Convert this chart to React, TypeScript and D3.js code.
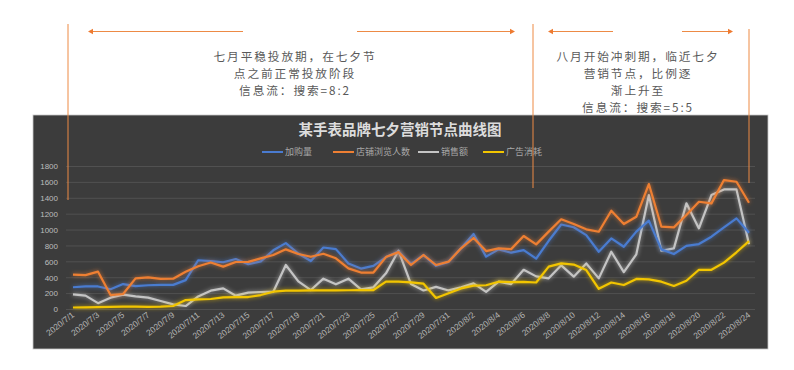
import React, { useEffect, useRef } from 'react';
import * as d3 from 'd3';

const dates = [
  '2020/7/1', '2020/7/2', '2020/7/3', '2020/7/4', '2020/7/5', '2020/7/6', '2020/7/7', '2020/7/8',
  '2020/7/9', '2020/7/10', '2020/7/11', '2020/7/12', '2020/7/13', '2020/7/14', '2020/7/15', '2020/7/16',
  '2020/7/17', '2020/7/18', '2020/7/19', '2020/7/20', '2020/7/21', '2020/7/22', '2020/7/23', '2020/7/24',
  '2020/7/25', '2020/7/26', '2020/7/27', '2020/7/28', '2020/7/29', '2020/7/30', '2020/7/31',
  '2020/8/1', '2020/8/2', '2020/8/3', '2020/8/4', '2020/8/5', '2020/8/6', '2020/8/7', '2020/8/8',
  '2020/8/9', '2020/8/10', '2020/8/11', '2020/8/12', '2020/8/13', '2020/8/14', '2020/8/15', '2020/8/16',
  '2020/8/17', '2020/8/18', '2020/8/19', '2020/8/20', '2020/8/21', '2020/8/22', '2020/8/23', '2020/8/24',
];

// 加购量
const addCart = [
  280, 290, 290, 255, 320, 295, 305, 310, 310, 370, 620, 610, 595, 635, 570, 605, 745, 835, 705, 610,
  780, 760, 580, 515, 550, 660, 730, 575, 685, 550, 600, 770, 950, 665, 757, 715, 748, 640, 865, 1070,
  1035, 937, 727, 895, 790, 980, 1118, 757, 698, 800, 824, 916, 1034, 1147, 966,
];
// 店铺浏览人数
const visitors = [
  440, 432, 476, 182, 195, 392, 405, 386, 388, 476, 545, 592, 540, 598, 600, 644, 686, 757, 698, 664,
  702, 644, 518, 465, 465, 660, 722, 560, 686, 560, 602, 770, 900, 735, 770, 760, 925, 820, 980, 1135,
  1076, 1009, 979, 1243, 1076, 1167, 1579, 1042, 1034, 1189, 1356, 1336, 1629, 1608, 1344,
];
// 销售额
const sales = [
  191, 174, 80, 149, 187, 166, 149, 107, 65, 44, 165, 237, 266, 174, 212, 220, 224, 560, 355, 245,
  388, 317, 388, 254, 279, 455, 740, 320, 240, 285, 240, 279, 329, 222, 350, 320, 500, 417, 392, 556,
  413, 580, 392, 727, 470, 695, 1440, 740, 769, 1336, 1021, 1440, 1512, 1512, 820,
];
// 广告消耗
const adCost = [
  25, 28, 30, 32, 35, 35, 33, 35, 44, 119, 128, 132, 153, 157, 157, 182, 224, 237, 237, 240,
  240, 240, 242, 245, 245, 350, 350, 342, 325, 145, 205, 265, 300, 305, 350, 345, 348, 340, 540, 580,
  565, 497, 260, 340, 308, 385, 380, 350, 296, 362, 500, 500, 590, 720, 860,
];

const seriesNames = ['加购量', '店铺浏览人数', '销售额', '广告消耗'];
const yTicks = [0, 200, 400, 600, 800, 1000, 1200, 1400, 1600, 1800];
const noteLeft = ['七月平稳投放期，在七夕节', '点之前正常投放阶段', '信息流：搜索=8:2'];
const noteRight = ['八月开始冲刺期，临近七夕', '营销节点，比例逐', '渐上升至', '信息流：搜索=5:5'];

const colors = ['#4a7bd0', '#ee7f33', '#c4c4c4', '#f2c500'];
const cjk = '"Noto Sans CJK SC", "Microsoft YaHei", sans-serif';
const orange = '#ed8a45';

export default function App() {
  const ref = useRef<SVGSVGElement>(null);

  useEffect(() => {
    const width = 794;
    const height = 370;
    const svg = d3.select(ref.current);
    svg.selectAll('*').remove();
    svg.attr('width', width).attr('height', height);

    const defs = svg.append('defs');
    const glow = defs.append('filter').attr('id', 'glow')
      .attr('x', '-10%').attr('y', '-20%').attr('width', '120%').attr('height', '140%');
    glow.append('feGaussianBlur').attr('in', 'SourceGraphic').attr('stdDeviation', 2.2).attr('result', 'b');
    glow.append('feComponentTransfer').attr('in', 'b').attr('result', 'b2')
      .append('feFuncA').attr('type', 'linear').attr('slope', 0.75);
    const merge = glow.append('feMerge');
    merge.append('feMergeNode').attr('in', 'b2');
    merge.append('feMergeNode').attr('in', 'SourceGraphic');

    // chart area
    svg.append('rect').attr('x', 33).attr('y', 115).attr('width', 735).attr('height', 234)
      .attr('fill', '#3c3c3c').attr('stroke', '#c8c8c8').attr('stroke-width', 0.8);

    // annotation texts, one text element per line
    const note = (lines: string[], cx: number) => {
      svg.append('g').selectAll('text').data(lines).join('text')
        .attr('x', cx).attr('y', (d, i) => 61 + i * 17)
        .attr('text-anchor', 'middle').attr('font-family', cjk)
        .attr('font-size', 11.7).attr('letter-spacing', 1.9).attr('fill', '#595959')
        .text(d => d);
    };
    note(noteLeft, 295);
    note(noteRight, 638);

    const x = d3.scalePoint<string>().domain(dates).range([73, 749]);
    const y = d3.scaleLinear().domain([0, 1800]).range([309.5, 166.5]);

    svg.append('g').selectAll('line').data(yTicks).join('line')
      .attr('x1', 66).attr('x2', 755)
      .attr('y1', d => y(d)).attr('y2', d => y(d))
      .attr('stroke', '#575757').attr('stroke-width', 0.8);

    svg.append('g').selectAll('text').data(yTicks).join('text')
      .attr('x', 58).attr('y', d => y(d)).attr('dy', '0.35em')
      .attr('text-anchor', 'end').attr('font-family', 'Liberation Sans, Arial, sans-serif')
      .attr('font-size', 8).attr('fill', '#bdbdbd').text(d => d);

    svg.append('g').selectAll('text').data(dates.filter((_, i) => i % 2 === 0)).join('text')
      .attr('transform', d => `translate(${x(d)! + 2},${316}) rotate(-38)`)
      .attr('text-anchor', 'end').attr('font-family', 'Liberation Sans, Arial, sans-serif')
      .attr('font-size', 8.5).attr('fill', '#b5b5b5').text(d => d);

    svg.append('text').attr('x', 400).attr('y', 135).attr('text-anchor', 'middle')
      .attr('font-family', cjk).attr('font-weight', 'bold').attr('font-size', 14.5)
      .attr('fill', '#dcdcdc').text('某手表品牌七夕营销节点曲线图');

    // legend
    const legendX = [262, 333, 418, 483];
    const lg = svg.append('g').selectAll('g').data(seriesNames).join('g')
      .attr('transform', (d, i) => `translate(${legendX[i]},152)`);
    lg.append('line').attr('x1', 0).attr('x2', 21).attr('stroke', (d, i) => colors[i]).attr('stroke-width', 2);
    lg.append('text').attr('x', 23).attr('dy', '0.35em').attr('font-family', cjk)
      .attr('font-size', 9).attr('fill', '#a8a8a8').text(d => d);

    // series
    const line = d3.line<number>().x((d, i) => x(dates[i])!).y(d => y(d));
    const all = [addCart, visitors, sales, adCost];
    const order = [2, 0, 1, 3];
    order.forEach(k => {
      svg.append('path').datum(all[k]).attr('d', line)
        .attr('fill', 'none').attr('stroke', colors[k]).attr('stroke-width', 2.2)
        .attr('stroke-linejoin', 'round').attr('filter', 'url(#glow)');
    });

    // annotation lines
    const vlines = [[68, 24, 200], [533, 24, 188], [749, 29, 183]];
    svg.append('g').selectAll('line').data(vlines).join('line')
      .attr('x1', d => d[0]).attr('x2', d => d[0]).attr('y1', d => d[1]).attr('y2', d => d[2])
      .attr('stroke', orange).attr('stroke-width', 1);

    const arrows = [[243, 88], [357, 515], [613, 548], [682, 733]];
    arrows.forEach(([a, b]) => {
      const dir = b > a ? 1 : -1;
      svg.append('line').attr('x1', a).attr('x2', b - dir * 3).attr('y1', 31.5).attr('y2', 31.5)
        .attr('stroke', orange).attr('stroke-width', 1.2);
      svg.append('path')
        .attr('d', `M${b},31.5 L${b - dir * 5},28.8 L${b - dir * 5},34.2 Z`)
        .attr('fill', '#ee7a30');
    });
  }, []);

  return (
    <div style={{ position: 'absolute', left: 0, top: 0 }}>
      <svg ref={ref} style={{ display: 'block' }}></svg>
    </div>
  );
}
